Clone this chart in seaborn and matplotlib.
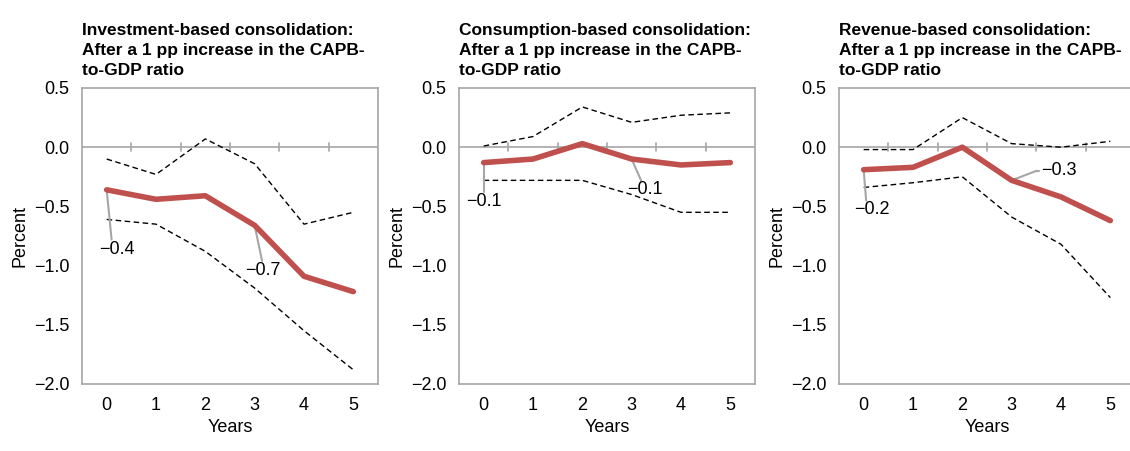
import numpy as np
import pandas as pd
import matplotlib
matplotlib.use("Agg")
import matplotlib.pyplot as plt
import seaborn as sns

years = [0, 1, 2, 3, 4, 5]
titles = [
    "Investment-based consolidation:\nAfter a 1 pp increase in the CAPB-\nto-GDP ratio",
    "Consumption-based consolidation:\nAfter a 1 pp increase in the CAPB-\nto-GDP ratio",
    "Revenue-based consolidation:\nAfter a 1 pp increase in the CAPB-\nto-GDP ratio",
]
inv_mid = [-0.36, -0.44, -0.41, -0.66, -1.09, -1.22]
inv_up = [-0.10, -0.23, 0.07, -0.14, -0.65, -0.55]
inv_lo = [-0.61, -0.65, -0.88, -1.19, -1.55, -1.88]
con_mid = [-0.13, -0.10, 0.03, -0.10, -0.15, -0.13]
con_up = [0.01, 0.09, 0.34, 0.21, 0.27, 0.29]
con_lo = [-0.28, -0.28, -0.28, -0.40, -0.55, -0.55]
rev_mid = [-0.19, -0.17, 0.00, -0.28, -0.42, -0.62]
rev_up = [-0.02, -0.02, 0.25, 0.03, 0.00, 0.05]
rev_lo = [-0.34, -0.30, -0.25, -0.59, -0.82, -1.27]

# label text, point index, text position (data coords), leader end
labels = [
    [("\u22120.4", 0, (-0.15, -0.86), (0.1, -0.78)), ("\u22120.7", 3, (2.8, -1.04), (3.15, -0.96))],
    [("\u22120.1", 0, (-0.35, -0.46), (0.0, -0.38)), ("\u22120.1", 3, (2.9, -0.36), (3.2, -0.29))],
    [("\u22120.2", 0, (-0.2, -0.53), (0.05, -0.45)), ("\u22120.3", 3, (3.6, -0.20), (3.5, -0.20))],
]

sns.set_theme(style="white")
plt.rcParams["font.family"] = ["Liberation Sans", "DejaVu Sans"]
plt.rcParams["axes.unicode_minus"] = True
plt.rcParams["text.color"] = "black"
plt.rcParams["axes.labelcolor"] = "black"
plt.rcParams["xtick.color"] = "black"
plt.rcParams["ytick.color"] = "black"

fig = plt.figure(figsize=(11.3, 4.51), dpi=100)
lefts = [82, 459, 839]
series = [(inv_mid, inv_up, inv_lo), (con_mid, con_up, con_lo), (rev_mid, rev_up, rev_lo)]
for k in range(3):
    ax = fig.add_axes([lefts[k] / 1130, 1 - 384 / 451, 296 / 1130, 296 / 451])
    mid, up, lo = series[k]
    df = pd.DataFrame({"Years": years, "mid": mid, "up": up, "lo": lo})
    ax.axhline(0, color="#a6a6a6", lw=1.2, zorder=1)
    for xt in [0.5, 1.5, 2.5, 3.5, 4.5]:
        ax.plot([xt, xt], [-0.035, 0.035], color="#a6a6a6", lw=1.2, zorder=1)
    sns.lineplot(data=df, x="Years", y="up", ax=ax, color="black", lw=1.0, linestyle=(0, (4, 2.5)))
    sns.lineplot(data=df, x="Years", y="lo", ax=ax, color="black", lw=1.0, linestyle=(0, (4, 2.5)))
    sns.lineplot(data=df, x="Years", y="mid", ax=ax, color="#c0504d", lw=4, zorder=3)
    for txt, i, pos, end in labels[k]:
        ax.plot([years[i], end[0]], [mid[i], end[1]], color="#a6a6a6", lw=1.5, zorder=2)
        if k == 2 and i == 3:
            ax.plot([end[0], pos[0] - 0.05], [end[1], end[1]], color="#a6a6a6", lw=1.5, zorder=2)
        ax.text(pos[0], pos[1], txt, fontsize=13, ha="left", va="center")
    ax.set_xlim(-0.5, 5.5)
    ax.set_ylim(-2.0, 0.5)
    ax.set_xticks(years)
    ax.set_yticks([0.5, 0.0, -0.5, -1.0, -1.5, -2.0])
    ax.set_yticklabels(["0.5", "0.0", "\u22120.5", "\u22121.0", "\u22121.5", "\u22122.0"])
    ax.tick_params(labelsize=13, length=0, pad=9)
    ax.set_xlabel("Years", fontsize=13, labelpad=4)
    ax.set_ylabel("Percent", fontsize=13, labelpad=4)
    for s in ax.spines.values():
        s.set_color("#a6a6a6")
        s.set_linewidth(1.2)
    ax.text(0.0, 1.035, titles[k], transform=ax.transAxes,
            fontsize=12.5, fontweight="bold", ha="left", va="bottom", linespacing=1.4)

fig.savefig("out.png", dpi=100)
